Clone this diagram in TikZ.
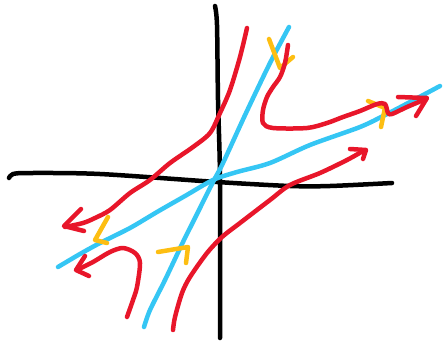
\documentclass[tikz,border=0pt]{standalone}
\definecolor{penred}{HTML}{E8162A}
\definecolor{penblue}{HTML}{35C6F4}
\definecolor{penorange}{HTML}{FDBE12}
\begin{document}
\begin{tikzpicture}[x=1pt,y=-1pt,line cap=round,line join=round,
    axis/.style={line width=4.5pt,black},
    eigen/.style={line width=4.5pt,penblue},
    traj/.style={line width=4.5pt,penred},
    flow/.style={line width=4.5pt,penorange}]
        \useasboundingbox (0,0) rectangle (444,343);
        % axes
        \draw[axis] plot[smooth] coordinates {(9,178) (13,174) (30,173) (100,174) (217,182) (290,186) (330,186) (392,183)};
        \draw[axis] plot[smooth] coordinates {(215,6) (217,25) (218,100) (220,180) (220,338)};
        % eigenlines
        \draw[eigen] plot[smooth] coordinates {(289,27) (270,63) (246,113) (223,163) (213,182) (193,222) (183,242) (165,280) (150,310) (144,327)};
        \draw[eigen] plot[smooth] coordinates {(58,267) (80,254) (100,243) (130,228) (157,212) (185,196) (213,180) (237,172) (270,163) (310,145) (360,127) (385,115) (410,102) (440,86)};
        % directions on the eigenlines
        \draw[flow] (269,39) -- (280,68) -- (293,57);
        \draw[flow] (368,101) -- (385,108) -- (381,127);
        \draw[flow] (108,217) -- (95,240) -- (107,243);
        \draw[flow] (158,252) -- (188,247) -- (186,263);
        % trajectories
        \draw[traj] plot[smooth] coordinates {(247,28) (240,57) (230,90) (220,113) (210,133) (193,147) (170,163) (150,180) (130,193) (110,210) (95,218) (83,223) (65,227)};
        \draw[traj] (81,209) -- (64,226) -- (84,231);
        \draw[traj] plot[smooth] coordinates {(127,317) (133,300) (137,287) (140,263) (135,253) (123,248) (110,252) (93,262) (77,270)};
        \draw[traj] (85,256) -- (76,270) -- (89,276);
        \draw[traj] plot[smooth] coordinates {(173,330) (175,317) (182,293) (190,277) (207,253) (222,237) (240,223) (270,200) (290,185) (320,173) (347,160) (363,151)};
        \draw[traj] (350,149) -- (366,150) -- (363,159);
        \draw[traj] plot[smooth] coordinates {(288,45) (285,63) (280,77) (273,87) (267,97) (263,110) (263,123) (273,128) (307,128) (327,123) (343,117) (360,111) (377,104) (385,104) (388,113) (392,114) (407,107) (426,99)};
        \draw[traj] (398,97) -- (427,98) -- (416,116);
    \end{tikzpicture}
\end{document}
